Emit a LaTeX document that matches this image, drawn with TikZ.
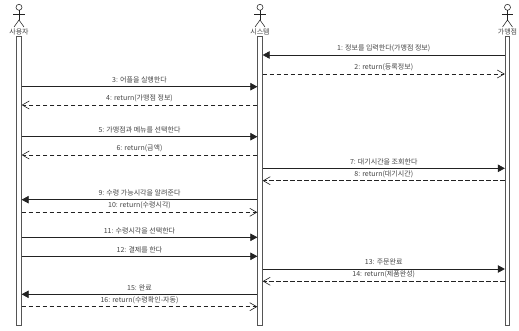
\documentclass[tikz,border=0pt]{standalone}
\usepackage{fontspec}
\setmainfont{Noto Sans CJK KR}
\usetikzlibrary{arrows.meta}
\definecolor{linec}{HTML}{222222}
\definecolor{barc}{HTML}{555555}
\definecolor{textc}{HTML}{444444}
\tikzset{
  bar/.style={draw=barc,line width=0.7pt,fill=white,minimum width=4.6pt,minimum height=288.5pt,inner sep=0pt},
  actorname/.style={font=\fontsize{7pt}{8pt}\selectfont,text=textc,inner sep=0pt},
  msglabel/.style={font=\fontsize{7pt}{8pt}\selectfont,text=textc,inner sep=0pt},
  call/.style={draw=linec,line width=0.7pt,-{Triangle[length=7pt,width=7.5pt]}},
  reply/.style={draw=linec,line width=0.6pt,dash pattern=on 4.5pt off 2.5pt,-{Straight Barb[length=7pt,width=8pt]}},
  actorline/.style={draw=linec,line width=0.55pt},
}
\newcommand{\stickman}[3]{%
  \draw[actorline] (#1,7.3) circle (3pt);
  \draw[actorline] (#1,10.3) -- (#1,20);
  \draw[actorline] (#1-5.7,14) -- (#1+5.7,14);
  \draw[actorline] (#1-5,27) -- (#1,20) -- (#1+5,27);
  \node[actorname] (#2) at (#1,31.8) {#3};
}
\newcommand{\msg}[6]{% number, style, from, to, y, label
  \draw[#2] (#3 |- 0,#5) -- (#4 |- 0,#5);
  \path (#3 |- 0,#5) -- (#4 |- 0,#5) node[midway,yshift=6.8pt,msglabel] (t#1) {#6};
}
\begin{document}
\begin{tikzpicture}[x=1pt,y=-1pt]
\useasboundingbox (0,0) rectangle (519,331);
\fill[white] (0,0) rectangle (519,331);
\stickman{19}{user}{사용자}
\stickman{260}{sys}{시스템}
\stickman{507.5}{store}{가맹점}
\node[bar] (b1) at (19,181) {};
\node[bar] (b2) at (260,181) {};
\node[bar] (b3) at (507.5,181) {};
\msg{1}{call}{b3.west}{b2.east}{55}{1: 정보를 입력한다(가맹점 정보)}
\msg{2}{reply}{b2.east}{b3.west}{74}{2: return(등록정보)}
\msg{3}{call}{b1.east}{b2.west}{86.7}{3: 어플을 실행한다}
\msg{4}{reply}{b2.west}{b1.east}{105}{4: return(가맹점 정보)}
\msg{5}{call}{b1.east}{b2.west}{136.7}{5: 가맹점과 메뉴를 선택한다}
\msg{6}{reply}{b2.west}{b1.east}{155}{6: return(금액)}
\msg{7}{call}{b2.east}{b3.west}{168.3}{7: 대기시간을 조회한다}
\msg{8}{reply}{b3.west}{b2.east}{180.7}{8: return(대기시간)}
\msg{9}{call}{b2.west}{b1.east}{199.7}{9: 수령 가능시각을 알려준다}
\msg{10}{reply}{b1.east}{b2.west}{212.3}{10: return(수령시각)}
\msg{11}{call}{b1.east}{b2.west}{237.3}{11: 수령시각을 선택한다}
\msg{12}{call}{b1.east}{b2.west}{256.3}{12: 결제를 한다}
\msg{13}{call}{b2.east}{b3.west}{269}{13: 주문완료}
\msg{14}{reply}{b3.west}{b2.east}{281.3}{14: return(제품완성)}
\msg{15}{call}{b2.west}{b1.east}{294.3}{15: 완료}
\msg{16}{reply}{b1.east}{b2.west}{306.7}{16: return(수령확인-자동)}
\end{tikzpicture}
\end{document}
